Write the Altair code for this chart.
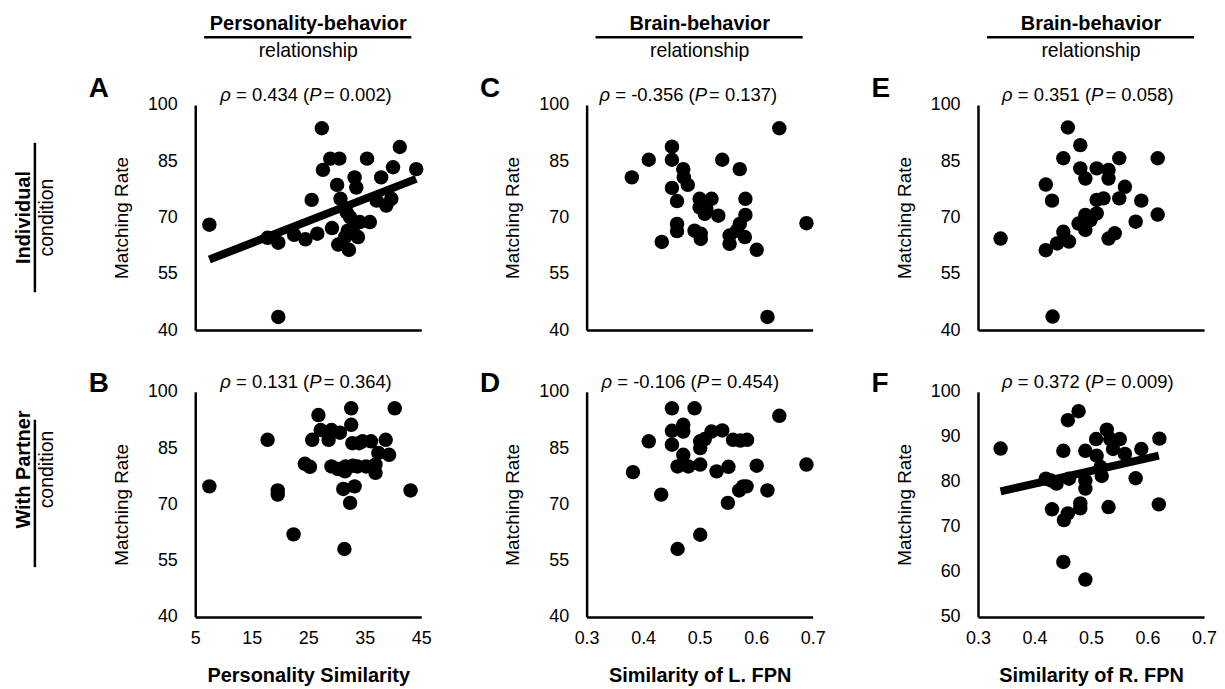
import altair as alt
import pandas as pd

FONT = "Liberation Sans"
W, H = 227, 226

# ---------------- text ----------------
col_headers = ["Personality-behavior", "Brain-behavior", "Brain-behavior"]
col_sub = "relationship"
row_headers = ["Individual", "With Partner"]
row_sub = "condition"
letters = ["A", "C", "E", "B", "D", "F"]
rho_mid = ["= 0.434 (", "= -0.356 (", "= 0.351 (",
           "= 0.131 (", "= -0.106 (", "= 0.372 ("]
rho_right = ["= 0.002)", "= 0.137)", "= 0.058)",
             "= 0.364)", "= 0.454)", "= 0.009)"]
x_titles = ["Personality Similarity", "Similarity of L. FPN", "Similarity of R. FPN"]
y_title = "Matching Rate"

pers_ticks = [5, 15, 25, 35, 45]
fpn_ticks = [0.3, 0.4, 0.5, 0.6, 0.7]
rate_ticks = [40, 55, 70, 85, 100]
rate_ticks_f = [50, 60, 70, 80, 90, 100]

# ---------------- data ----------------
a_x = [7.5, 27.4, 19.7, 17.8, 19.7, 22.5, 24.5, 26.6, 25.6, 27.6, 28.9, 30.5, 30.1, 29.2, 30.7,
       30.3, 31.5, 32.2, 33.2, 33.5, 32.4, 32.9, 34.1, 35.9, 35.4, 37.9, 40.0, 41.2, 44.1, 37.1,
       38.8, 39.7, 33.8, 32.0, 31.8]
a_y = [68.1, 93.8, 43.5, 64.6, 63.3, 65.4, 64.2, 65.7, 74.7, 82.7, 85.7, 85.7, 78.7, 67.2, 75.0,
       62.8, 64.8, 61.4, 80.7, 78.0, 70.1, 67.4, 68.8, 68.8, 85.7, 80.7, 83.4, 88.8, 82.9, 74.5,
       73.2, 75.0, 64.8, 66.5, 71.4]
a_fit_x = [7.5, 44.1]
a_fit_y = [58.8, 80.3]

c_x = [0.380, 0.410, 0.451, 0.451, 0.471, 0.472, 0.479, 0.451, 0.460, 0.433, 0.460, 0.460, 0.491,
       0.502, 0.502, 0.500, 0.500, 0.509, 0.521, 0.533, 0.512, 0.540, 0.571, 0.581, 0.581, 0.571,
       0.566, 0.553, 0.553, 0.580, 0.601, 0.641, 0.620, 0.689]
c_y = [80.7, 85.4, 88.9, 85.4, 82.9, 80.7, 78.7, 77.9, 74.4, 63.5, 68.3, 66.4, 66.5, 65.7, 64.3,
       75.0, 72.7, 71.0, 75.0, 70.5, 72.3, 85.4, 82.9, 75.0, 70.7, 68.3, 66.5, 65.2, 63.0, 64.8,
       61.4, 93.8, 43.5, 68.5]

e_x = [0.340, 0.432, 0.420, 0.431, 0.420, 0.440, 0.451, 0.461, 0.459, 0.481, 0.451, 0.481, 0.490,
       0.510, 0.531, 0.531, 0.550, 0.478, 0.490, 0.490, 0.499, 0.510, 0.510, 0.522, 0.531, 0.542,
       0.550, 0.560, 0.589, 0.579, 0.618, 0.618]
e_y = [64.4, 43.6, 78.8, 74.5, 61.3, 63.1, 66.2, 63.6, 94.0, 89.3, 85.8, 83.1, 80.4, 83.1, 82.7,
       80.4, 85.8, 68.4, 70.7, 66.7, 69.3, 71.1, 74.7, 75.1, 64.4, 65.8, 75.1, 78.2, 74.5, 68.9,
       85.8, 70.8]

b_x = [7.5, 17.8, 19.6, 19.6, 22.4, 24.4, 25.3, 26.8, 25.7, 27.2, 28.6, 29.1, 30.6, 29.1, 30.3,
       31.5, 31.4, 32.6, 32.6, 32.8, 31.6, 32.9, 31.2, 33.2, 32.4, 34.0, 34.6, 36.1, 33.7, 35.2,
       36.9, 36.9, 37.4, 38.7, 39.3, 40.3, 43.1]
b_y = [74.8, 87.2, 73.7, 72.6, 62.0, 80.8, 80.0, 93.8, 87.2, 89.8, 87.2, 89.8, 89.1, 80.1, 79.4,
       78.8, 58.1, 95.6, 91.2, 86.3, 80.1, 80.3, 74.1, 74.8, 70.4, 86.3, 86.8, 86.8, 80.1, 80.1,
       80.6, 78.4, 83.7, 87.2, 83.2, 95.6, 73.7]

d_x = [0.382, 0.410, 0.432, 0.451, 0.491, 0.451, 0.471, 0.471, 0.451, 0.471, 0.461, 0.480, 0.501,
       0.501, 0.501, 0.509, 0.521, 0.540, 0.559, 0.572, 0.584, 0.530, 0.551, 0.550, 0.570, 0.577,
       0.583, 0.601, 0.620, 0.641, 0.689, 0.501, 0.461]
d_y = [78.6, 86.8, 72.6, 95.6, 95.6, 89.6, 91.2, 89.4, 85.9, 83.2, 80.1, 80.1, 80.6, 85.0, 86.8,
       87.4, 89.4, 89.7, 87.2, 87.0, 87.2, 78.8, 80.0, 70.4, 73.7, 74.8, 74.8, 80.3, 73.7, 93.6,
       80.6, 61.9, 58.1]

f_x = [0.340, 0.451, 0.459, 0.478, 0.490, 0.509, 0.528, 0.534, 0.551, 0.539, 0.560, 0.589, 0.621,
       0.510, 0.517, 0.420, 0.429, 0.439, 0.461, 0.490, 0.490, 0.519, 0.579, 0.431, 0.452, 0.459,
       0.481, 0.481, 0.531, 0.620, 0.451, 0.490]
f_y = [87.4, 86.9, 93.7, 95.7, 86.9, 89.5, 91.6, 89.5, 89.5, 87.3, 86.2, 87.3, 89.6, 85.8, 83.3,
       80.7, 80.3, 79.6, 80.7, 80.3, 78.5, 81.3, 80.8, 73.9, 71.5, 73.0, 75.2, 74.1, 74.4, 75.0,
       62.2, 58.3]
f_fit_x = [0.34, 0.62]
f_fit_y = [77.9, 85.8]

# Arial / Liberation Sans advance widths (em) for laying out the split title
CHAR_W = {" ": 0.278, "=": 0.584, ".": 0.278, "(": 0.333, ")": 0.333, "-": 0.333}
for _d in "0123456789":
    CHAR_W[_d] = 0.556


def text_width(s, size):
    return sum(CHAR_W.get(ch, 0.556) for ch in s) * size


def txt(s, x, y, size, weight="normal", style="normal", align="center",
        baseline="alphabetic", angle=0):
    return alt.Chart(pd.DataFrame({"t": [s]})).mark_text(
        font=FONT, fontSize=size, fontWeight=weight, fontStyle=style,
        align=align, baseline=baseline, angle=angle, color="black"
    ).encode(text="t:N", x=alt.value(x), y=alt.value(y))


def hrule(x1, x2, y):
    return alt.Chart(pd.DataFrame({"t": [0]})).mark_rule(
        color="black", strokeWidth=2.5).encode(
        x=alt.value(x1), x2=alt.value(x2), y=alt.value(y))


def vrule(x, y1, y2):
    return alt.Chart(pd.DataFrame({"t": [0]})).mark_rule(
        color="black", strokeWidth=2.5).encode(
        x=alt.value(x), y=alt.value(y1), y2=alt.value(y2))


TS = 18.5


def panel(idx, xs, ys, xdom, xticks, xfmt, ydom, yticks, bottom, col, fit=None,
          p_dx=0, letter_y=-8, header=None, rowlab=None):
    df = pd.DataFrame({"x": xs, "y": ys})
    xaxis = alt.Axis(values=xticks, format=xfmt, labels=bottom, labelFlush=False,
                     labelPadding=13, title=(x_titles[col] if bottom else None),
                     titleFontWeight="bold", titleFontSize=20, titleY=59,
                     titleBaseline="middle", titleX=W / 2)
    yaxis = alt.Axis(values=yticks, labelPadding=18, labelFlush=False,
                     title=y_title, titleFontSize=19, titleFontWeight="normal",
                     titleX=-74, titleY=H / 2, titleAngle=270, titleAlign="center",
                     titleBaseline="middle")
    xenc = alt.X("x:Q", scale=alt.Scale(domain=xdom, nice=False, zero=False), axis=xaxis)
    yenc = alt.Y("y:Q", scale=alt.Scale(domain=ydom, nice=False, zero=False), axis=yaxis)
    layers = [alt.Chart(df).mark_circle(size=210, color="black", opacity=1).encode(x=xenc, y=yenc)]
    if fit is not None:
        fdf = pd.DataFrame({"x": fit[0], "y": fit[1]})
        layers.append(alt.Chart(fdf).mark_line(color="black", strokeWidth=8, strokeCap="butt")
                      .encode(x=xenc, y=yenc))
    pl = W / 2 + p_dx
    mid_w = text_width(rho_mid[idx], TS)
    layers += [
        txt(rho_mid[idx], pl, -4, TS, align="right"),
        txt("ρ", pl - mid_w - 0.278 * TS, -4, TS, style="italic", align="right"),
        txt("P", pl, -4, TS, style="italic", align="left"),
        txt(rho_right[idx], pl + 14.5, -4, TS, align="left"),
        txt(letters[idx], -107, letter_y, 28, weight="bold", align="left"),
    ]
    if header is not None:
        layers += [
            txt(header, W / 2, -75, 20, weight="bold"),
            hrule(9, 217, -68),
            txt(col_sub, W / 2, -48, 19.5),
        ]
    if rowlab is not None:
        lab, cy, ly1, ly2 = rowlab
        layers += [
            txt(lab, -172, cy, 20, weight="bold", baseline="middle", angle=270),
            vrule(-161, ly1, ly2),
            txt(row_sub, -149, cy, 19.5, baseline="middle", angle=270),
        ]
    return alt.layer(*layers).properties(width=W, height=H)


pA = panel(0, a_x, a_y, [5, 45], pers_ticks, "d", [40, 100], rate_ticks, False, 0,
           fit=(a_fit_x, a_fit_y), p_dx=1, letter_y=-8, header=col_headers[0],
           rowlab=(row_headers[0], H / 2, 38, 188))
pC = panel(1, c_x, c_y, [0.3, 0.7], fpn_ticks, ".1f", [40, 100], rate_ticks, False, 1,
           p_dx=-5, letter_y=-8, header=col_headers[1])
pE = panel(2, e_x, e_y, [0.3, 0.7], fpn_ticks, ".1f", [40, 100], rate_ticks, False, 2,
           p_dx=0, letter_y=-8, header=col_headers[2])
pB = panel(3, b_x, b_y, [5, 45], pers_ticks, "d", [40, 100], rate_ticks, True, 0,
           p_dx=1, letter_y=0, rowlab=(row_headers[1], 78, 28, 176))
pD = panel(4, d_x, d_y, [0.3, 0.7], fpn_ticks, ".1f", [40, 100], rate_ticks, True, 1,
           p_dx=-3, letter_y=0)
pF = panel(5, f_x, f_y, [0.3, 0.7], fpn_ticks, ".1f", [50, 100], rate_ticks_f, True, 2,
           fit=(f_fit_x, f_fit_y), p_dx=0, letter_y=0)

chart = alt.concat(pA, pC, pE, pB, pD, pF, columns=3,
                   spacing={"row": 62, "column": 166}, bounds="flush").properties(
    padding={"left": 6, "top": 5, "right": 0, "bottom": 0}
).configure_view(stroke=None).configure_axis(
    domainColor="black", domainWidth=2.5, ticks=False, grid=False,
    labelFont=FONT, labelFontSize=18, labelColor="black",
    titleFont=FONT, titleColor="black"
)

chart.save("out.html", embed_options={"renderer": "svg", "actions": False})
